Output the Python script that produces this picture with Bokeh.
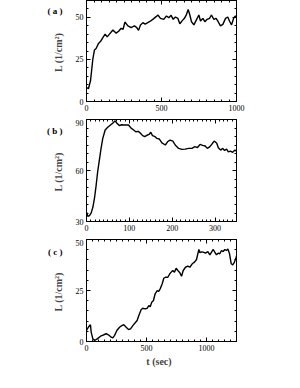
from bokeh.plotting import figure
from bokeh.models import Range1d, FixedTicker, LinearAxis, CustomJSTickFormatter
from bokeh.layouts import column
from bokeh.embed import file_html
from bokeh.resources import INLINE

# Panel (a)
t_a = [3, 13, 27, 42, 53, 64, 80, 93, 109, 124, 138, 153, 176, 198, 216, 231, 244, 256, 276, 298,
       320, 335, 347, 360, 376, 391, 420, 442, 464, 476, 493, 515, 533, 549, 564, 578, 593, 609, 622, 640,
       653, 667, 678, 689, 700, 716, 731, 749, 760, 776, 789, 804, 820, 833, 849, 864, 878, 893, 909, 927,
       942, 953, 967, 982, 993, 1000]
L_a = [8.2, 7.6, 12.5, 25, 30.6, 31.5, 34.5, 35.6, 38, 40, 38.4, 40, 42.5, 40.6, 41.9, 43.5, 42.9, 47.2, 44.9, 43.9,
       45, 43.9, 42.3, 45.5, 46.8, 46, 47.4, 48.8, 50.4, 51.4, 49.4, 48.8, 50.8, 49.8, 51.2, 48.8, 50.2, 49.4, 46.2, 48.2,
       49.4, 51.8, 54.7, 51.4, 47.4, 45.5, 48.2, 51.4, 47.8, 49.4, 47.4, 48.8, 49.4, 51.4, 48.8, 49.4, 47.4, 44.9, 45.8, 49.4,
       50.2, 47.8, 45.5, 49.8, 50.8, 50]

# Panel (b)
t_b = [0, 3, 7, 11, 15, 19, 22.5, 26, 30, 34, 38, 43.5, 49.5, 56, 61, 67, 71, 77, 82, 87,
       92, 98, 104, 110, 115, 121, 126, 131, 136, 142.5, 146, 150, 154, 160, 164, 170, 176, 184, 189, 195,
       201.5, 207, 215, 222.5, 230, 238, 246, 253, 259, 265, 271, 277, 282, 288, 294, 298, 304, 307.5, 313, 318,
       322, 327, 331, 336, 341, 346.5, 350]
L_b = [35.5, 33.1, 33.5, 35.1, 38.5, 44.4, 51.3, 59.2, 66.1, 73, 78.9, 83.8, 85.4, 86.8, 87.8, 89.2, 87.8, 86.4, 86.9, 86.8,
       86.8, 86.8, 84.9, 83.8, 82.8, 83, 81.9, 80.5, 79.9, 80.9, 81.2, 82.5, 80.5, 79.9, 78.9, 78.5, 76.3, 75, 76.9, 77.9,
       77.3, 75, 73, 72.4, 72.6, 73, 73, 74, 73.5, 75.4, 74.8, 74.4, 73, 74, 76, 77.3, 76, 73.4, 72, 73,
       71.8, 72.6, 71, 71.4, 70.7, 72, 71.4]

# Panel (c)
t_c = [0, 11, 25, 33, 39, 53, 67, 89, 117, 144, 164, 183, 206, 219, 233, 253, 275, 294, 311, 331,
       350, 367, 386, 406, 422, 436, 456, 469, 489, 506, 519, 531, 544, 558, 572, 589, 600, 614, 631, 644,
       658, 678, 694, 706, 719, 733, 747, 761, 778, 792, 806, 825, 844, 861, 881, 900, 917, 928, 936, 944,
       956, 972, 992, 1011, 1028, 1042, 1056, 1069, 1083, 1097, 1111, 1125, 1139, 1153, 1167, 1178, 1192, 1206, 1219, 1233,
       1247, 1250]
L_c = [5.4, 6.5, 7.8, 8.2, 4.6, 1.3, 0.5, 1.3, 2.6, 3.3, 3.8, 3.3, 2.1, 1.8, 2.9, 5.4, 7, 7.8, 8.2, 7,
       5.9, 6.2, 7.8, 9.2, 10.3, 12.7, 15.7, 16.3, 16, 16.3, 17.6, 17, 19.3, 20.1, 23.4, 25, 24.5, 25.8, 28.3, 31,
       31.5, 31.5, 33.2, 34, 34.8, 34, 35.9, 34.8, 33.7, 32, 34.8, 36.4, 36.9, 36.4, 38.1, 38.9, 40.2, 43, 45.1, 43.6,
       43.9, 43.8, 43.3, 44.1, 42.5, 43.8, 45.1, 43.8, 42.5, 43.3, 43, 44.6, 44.1, 45.1, 44.6, 45.4, 43, 38.1, 37.6, 38.9,
       41.3, 42]

xmaj_a = [0, 500, 1000]
xmaj_b = [0, 100, 200, 300]
xmaj_c = [0, 500, 1000]
ymaj_a = [0, 25, 50]
ymaj_b = [30, 60, 90]
ymaj_c = [0, 25, 50]
panel_labels = ["( a )", "( b )", "( c )"]

FONT = "Liberation Serif"
YLABEL = "L  (1/cm²)"
XLABEL = "t   (sec)"


def style_axis(ax):
    ax.axis_line_color = "black"
    ax.axis_line_width = 1
    ax.major_tick_line_color = "black"
    ax.minor_tick_line_color = "black"
    ax.major_tick_in = 4
    ax.major_tick_out = 0
    ax.minor_tick_in = 2
    ax.minor_tick_out = 0
    ax.major_label_text_font = FONT
    ax.major_label_text_font_size = "8px"
    ax.major_label_text_color = "black"
    ax.major_label_standoff = 3


def tick_only_axis(ticks, length):
    # axis that draws only ticks, no labels
    ax = LinearAxis(ticker=FixedTicker(ticks=[], minor_ticks=ticks))
    ax.axis_line_color = "black"
    ax.major_tick_in = 0
    ax.major_tick_out = 0
    ax.minor_tick_in = length
    ax.minor_tick_out = 0
    ax.minor_tick_line_color = "black"
    ax.major_label_standoff = 0
    return ax


def panel_label_axis(text, yval):
    # an outer left axis that only carries the panel tag "( a )" etc.
    ax = LinearAxis(ticker=FixedTicker(ticks=[yval], minor_ticks=[]),
                    formatter=CustomJSTickFormatter(args=dict(lab=text), code="return lab"))
    ax.axis_line_color = None
    ax.major_tick_line_color = None
    ax.minor_tick_line_color = None
    ax.major_tick_in = 0
    ax.major_tick_out = 0
    ax.major_label_text_font = FONT
    ax.major_label_text_font_style = "bold"
    ax.major_label_text_font_size = "9px"
    ax.major_label_text_color = "black"
    ax.major_label_standoff = -13
    return ax


def make_panel(t, L, xr, yr, xmaj, xstep, ymaj, ystep, lab, lab_y, frame_h, bottom, xlabel=None):
    p = figure(frame_width=150, frame_height=frame_h,
               x_range=Range1d(*xr), y_range=Range1d(*yr),
               output_backend="svg", toolbar_location=None,
               min_border_left=86, min_border_right=10, min_border_top=0,
               min_border_bottom=bottom)
    p.grid.visible = False
    p.outline_line_color = "black"
    xminor = list(range(int(xr[0]), int(xr[1]) + 1, xstep))
    yminor = list(range(int(yr[0]), int(yr[1]) + 1, ystep))
    p.xaxis.ticker = FixedTicker(ticks=xmaj, minor_ticks=xminor)
    p.yaxis.ticker = FixedTicker(ticks=ymaj, minor_ticks=yminor)
    for ax in p.xaxis:
        style_axis(ax)
    for ax in p.yaxis:
        style_axis(ax)
        ax.axis_label = YLABEL
        ax.axis_label_text_font = FONT
        ax.axis_label_text_font_style = "bold"
        ax.axis_label_text_font_size = "10px"
        ax.axis_label_standoff = 9
    if xlabel:
        for ax in p.xaxis:
            ax.axis_label = xlabel
            ax.axis_label_text_font = FONT
            ax.axis_label_text_font_style = "bold"
            ax.axis_label_text_font_size = "10px"
            ax.axis_label_standoff = 2
    p.add_layout(tick_only_axis(xminor, 2), "above")
    p.add_layout(tick_only_axis(xmaj, 4), "above")
    p.add_layout(tick_only_axis(yminor, 2), "right")
    p.add_layout(tick_only_axis(ymaj, 4), "right")
    p.add_layout(panel_label_axis(lab, lab_y), "left")
    p.line(t, L, line_color="black", line_width=1.4)
    return p


pa = make_panel(t_a, L_a, (0, 1000), (0, 60), xmaj_a, 50, ymaj_a, 5, panel_labels[0], 54, 101, 18)
pb = make_panel(t_b, L_b, (0, 350), (30, 90), xmaj_b, 10, ymaj_b, 5, panel_labels[1], 83, 102, 18)
pc = make_panel(t_c, L_c, (0, 1250), (0, 50), xmaj_c, 50, ymaj_c, 5, panel_labels[2], 44, 102, 25, XLABEL)

layout = column(pa, pb, pc, spacing=0)
open("out.html", "w").write(file_html(layout, INLINE))
